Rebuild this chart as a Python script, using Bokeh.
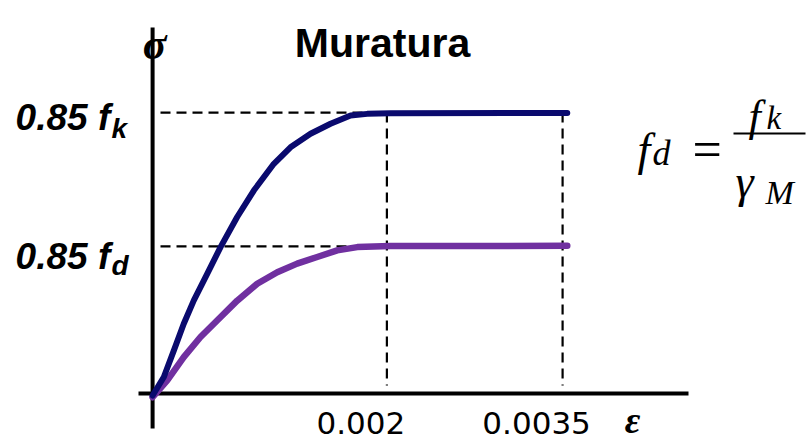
from bokeh.plotting import figure
from bokeh.models import Range1d
from bokeh.embed import file_html
from bokeh.resources import INLINE
from bokeh.core.properties import value

# ---- data (strain eps, normalised stress sigma) ----
eps_k = [0.0, 0.000096, 0.000181, 0.000266, 0.000352, 0.000466, 0.00058, 0.000722,
         0.000864, 0.001035, 0.001177, 0.001348, 0.001519, 0.00169, 0.001832, 0.002031, 0.00354]
sig_k = [-0.006, 0.05, 0.13, 0.211, 0.282, 0.362, 0.443, 0.534,
         0.614, 0.695, 0.745, 0.786, 0.816, 0.841, 0.846, 0.848, 0.849]

eps_d = [0.0, 0.000125, 0.000266, 0.000409, 0.000551, 0.000722, 0.000893, 0.001064,
         0.001234, 0.001405, 0.001576, 0.001747, 0.002031, 0.00354]
sig_d = [-0.011, 0.04, 0.11, 0.171, 0.221, 0.281, 0.332, 0.367,
         0.393, 0.413, 0.433, 0.443, 0.446, 0.447]

tick_eps = [0.002, 0.0035]
tick_labels = ["0.002", "0.0035"]
levels = [0.85, 0.445]
level_main = ["0.85 f", "0.85 f"]
level_sub = ["k", "d"]
title_text = "Muratura"

# ---- figure ----
W, H = 808, 439
X0, X1 = -0.0012984, 0.0055992
Y0, Y1 = -0.13896, 1.18893

p = figure(width=W, height=H, x_range=Range1d(X0, X1), y_range=Range1d(Y0, Y1),
           output_backend="svg", toolbar_location=None, min_border=0,
           x_axis_type=None, y_axis_type=None)
p.grid.visible = False
p.outline_line_color = None
p.background_fill_color = "white"
p.border_fill_color = "white"


def dx(X):
    return X0 + X / W * (X1 - X0)


def dy(Y):
    return Y1 - Y / H * (Y1 - Y0)


NAVY = "#0a0a6e"
PURPLE = "#7030a0"
DASH = "10 6"

# dashed guide lines
for lev in levels:
    p.line([dx(160), tick_eps[0]], [lev, lev], line_color="black", line_width=2.2, line_dash=DASH)
for t in tick_eps:
    p.line([t, t], [levels[0], dy(385)], line_color="black", line_width=2.2, line_dash=DASH)

# axes drawn as lines
p.line([dx(138), dx(688)], [0, 0], line_color="black", line_width=4)
p.line([0, 0], [dy(428), dy(27)], line_color="black", line_width=4)

# curves
p.line(eps_d, sig_d, line_color=PURPLE, line_width=6.5, line_join="round", line_cap="round")
p.line(eps_k, sig_k, line_color=NAVY, line_width=6, line_join="round", line_cap="round")

# tick labels
p.text(x=tick_eps, y=[0, 0], text=tick_labels, x_offset=-26, y_offset=29,
       text_align="center", text_baseline="alphabetic",
       text_font=value("DejaVu Sans"), text_font_size="31px", text_color="black")

# level labels
main_dy = [5, 10]
sub_dy = [16, 19]
for lev, m, s, mdy, sdy in zip(levels, level_main, level_sub, main_dy, sub_dy):
    p.text(x=[0], y=[lev], text=[m], x_offset=-137, y_offset=mdy,
           text_align="left", text_baseline="alphabetic",
           text_font=value("Liberation Sans"), text_font_style="bold italic",
           text_font_size="37px", text_color="black")
    p.text(x=[0], y=[lev], text=[s], x_offset=-41, y_offset=sdy,
           text_align="left", text_baseline="alphabetic",
           text_font=value("Liberation Sans"), text_font_style="bold italic",
           text_font_size="28px", text_color="black")

# title
p.text(x=[dx(382)], y=[dy(42)], text=[title_text], text_align="center",
       text_baseline="alphabetic", text_font=value("Liberation Sans"),
       text_font_style="bold", text_font_size="41px", text_color="black")

# axis symbols
p.text(x=[0], y=[dy(44)], text=["σ"], x_offset=2, text_align="center", text_baseline="alphabetic",
       text_font=value("Liberation Serif"), text_font_style="bold italic",
       text_font_size="44px", text_color="black")
p.text(x=[dx(632)], y=[0], text=["ε"], y_offset=26, text_align="center",
       text_baseline="alphabetic", text_font=value("Liberation Serif"),
       text_font_style="bold italic", text_font_size="38px", text_color="black")

# formula  f_d = f_k / gamma_M
pieces = [
    ("f", 637, 149, 46, "italic"),
    ("d", 652, 152, 36, "italic"),
    ("=", 692, 149, 52, "normal"),
    ("f", 748, 116, 44, "italic"),
    ("k", 766, 117, 33, "italic"),
    ("γ", 735, 181, 46, "italic"),
    ("M", 765, 192, 34, "italic"),
]
for txt, X, Y, size, style in pieces:
    p.text(x=[dx(X)], y=[dy(Y)], text=[txt], text_align="left", text_baseline="alphabetic",
           text_font=value("Liberation Serif"), text_font_style=style,
           text_font_size=f"{size}px", text_color="black")
p.line([dx(733), dx(805)], [dy(133), dy(133)], line_color="black", line_width=2)

open("out.html", "w").write(file_html(p, INLINE))
